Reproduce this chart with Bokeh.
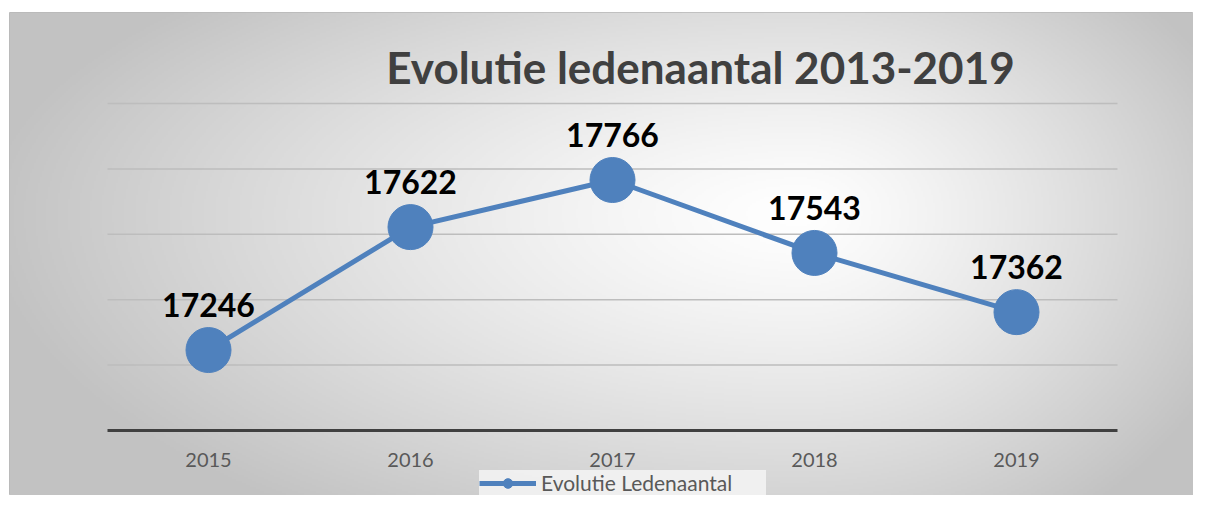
import numpy as np
from bokeh.plotting import figure
from bokeh.models import FixedTicker, Label, Legend, LegendItem
from bokeh.core.properties import value
from bokeh.embed import file_html
from bokeh.resources import INLINE

# ---- data ----
years = [2015, 2016, 2017, 2018, 2019]
members = [17246, 17622, 17766, 17543, 17362]
grid_values = [17200, 17400, 17600, 17800, 18000]
axis_base = 17000
title_text = "Evolutie ledenaantal 2013-2019"
series_name = "Evolutie Ledenaantal"

W, H = 1193, 495
OX, OY = 9, 12               # frame offset inside the canvas
FW, FH = W - OX, H - OY
px_per_year = 202.0
px_per_unit = 0.327
plot_left_px = 107.0 - OX    # frame x where first category band starts
axis_px = 430.0 - OY         # frame y of baseline

x_start = (years[0] - 0.5) - plot_left_px / px_per_year
x_end = x_start + FW / px_per_year
y_end = axis_base + axis_px / px_per_unit
y_start = y_end - FH / px_per_unit

p = figure(width=W, height=H, output_backend="svg", toolbar_location=None,
           x_range=(x_start, x_end), y_range=(y_start, y_end),
           min_border=0, min_border_left=OX, min_border_top=OY,
           y_axis_location=None)
p.outline_line_color = "#b8b8b8"
p.outline_line_width = 1
p.xgrid.visible = False
p.ygrid.visible = False
p.border_fill_color = "white"

# ---- background gradient ----
gw, gh = 592, 242
xs = np.linspace(0, FW, gw)
ys = np.linspace(FH, 0, gh)  # row 0 = bottom
X, Y = np.meshgrid(xs, ys)
cx, cy = 790.0, 200.0
rx = np.where(X < cx, 820.0, 470.0)
ry = np.where(Y < cy, 320.0, 380.0)
r = np.sqrt(((X - cx) / rx) ** 2 + ((Y - cy) / ry) ** 2)
r = np.clip(r, 0, 1)
v = 255 - (255 - 194) * r ** 1.25
v = v.astype(np.uint32)
img = (255 << 24) | (v << 16) | (v << 8) | v
p.image_rgba(image=[img.astype(np.uint32)], x=x_start, y=y_start,
             dw=x_end - x_start, dh=y_end - y_start)

# ---- gridlines (limited to plot area) ----
p.segment(x0=[years[0] - 0.5] * len(grid_values), x1=[years[-1] + 0.5] * len(grid_values),
          y0=grid_values, y1=grid_values, line_color="#bdbdbd", line_width=1.5)

# ---- x axis ----
ax = p.xaxis[0]
ax.fixed_location = axis_base
ax.bounds = (years[0] - 0.5, years[-1] + 0.5)
ax.ticker = FixedTicker(ticks=years)
ax.axis_line_color = "#404040"
ax.axis_line_width = 3
ax.major_tick_line_color = None
ax.minor_tick_line_color = None
ax.major_label_standoff = 16
ax.major_label_text_font = "Lato"
ax.major_label_text_font_size = "20px"
ax.major_label_text_color = "#595959"

# ---- series ----
ln = p.line(years, members, line_color="#4f81bd", line_width=5)
sc = p.scatter(years, members, size=45, fill_color="#4f81bd", line_color="#4f81bd")
p.text(x=years, y=members, text=[str(m) for m in members], y_offset=-45,
       text_align="center", text_baseline="middle", text_color="black",
       text_font=value("Lato"), text_font_style="bold", text_font_size="32px")

# ---- title ----
tx = x_start + (700 - OX) / px_per_year
ty = y_end - (66 - OY) / px_per_unit
p.add_layout(Label(x=tx, y=ty, text=title_text, text_align="center", text_baseline="middle",
                   text_font="Lato", text_font_style="bold", text_font_size="44px",
                   text_color="#404040"))

# ---- legend ----
legend = Legend(items=[LegendItem(label=series_name, renderers=[ln, sc])],
                location=(470, 0), orientation="horizontal",
                padding=3, glyph_width=57, glyph_height=24, label_height=24,
                label_width=225, label_standoff=5,
                label_text_font="Lato", label_text_font_size="21px",
                label_text_color="#595959", background_fill_color="#f4f4f4",
                background_fill_alpha=0.85, border_line_color=None, margin=0)
p.add_layout(legend)

open("out.html", "w").write(file_html(p, INLINE))
